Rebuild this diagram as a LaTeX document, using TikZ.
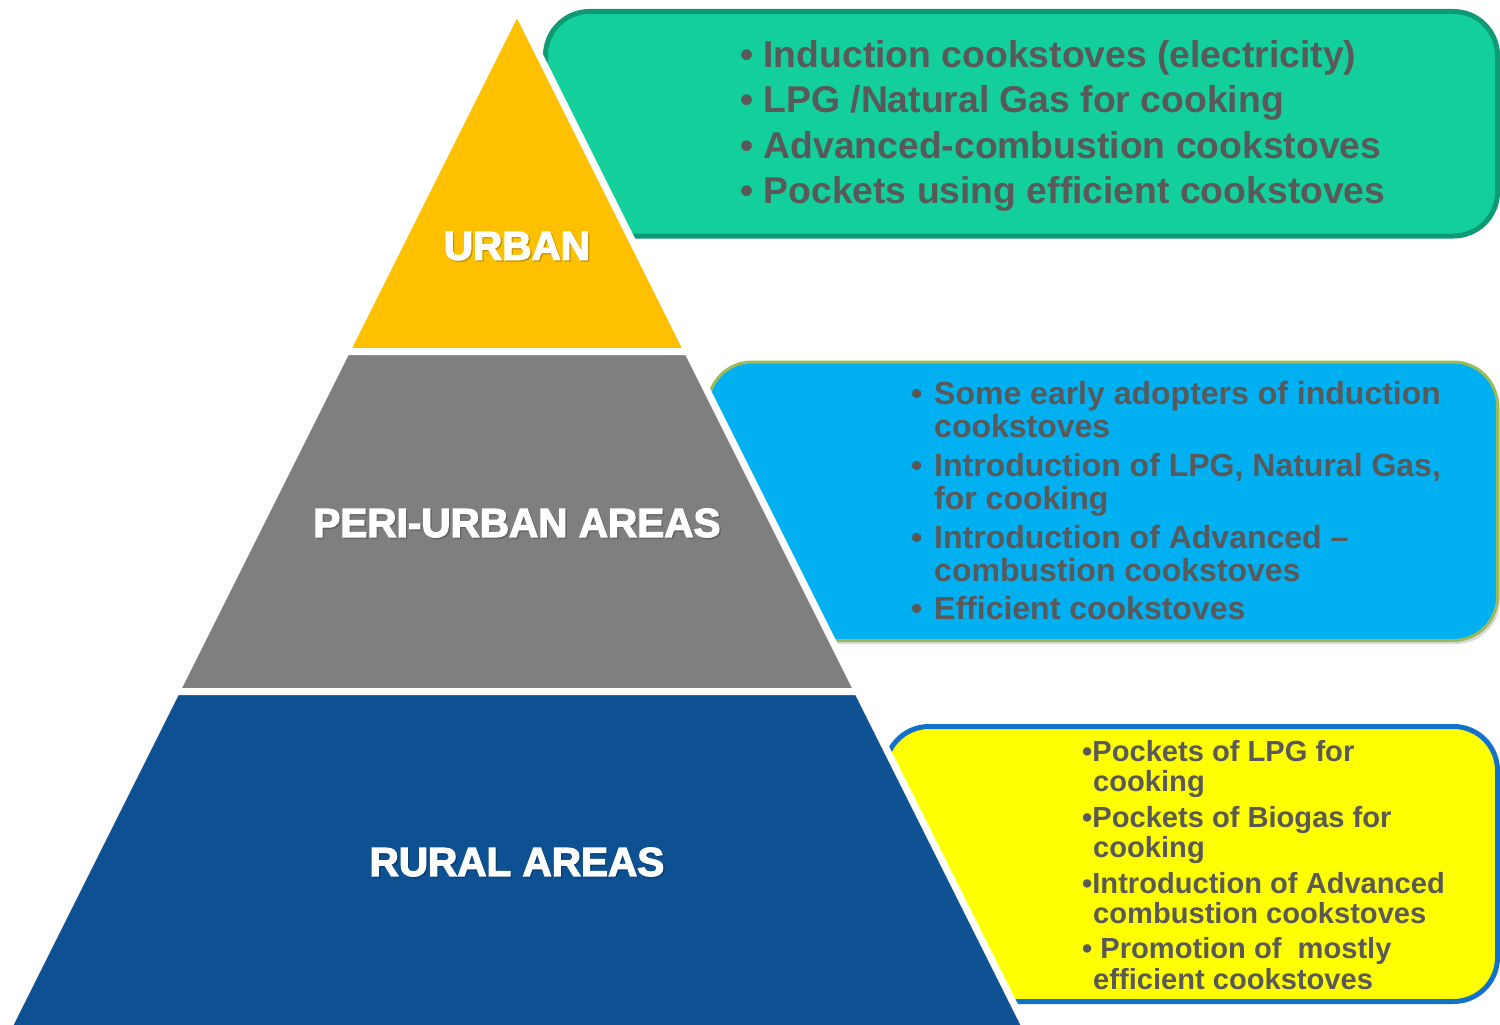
\documentclass[tikz,border=0pt]{standalone}
\usepackage{fontspec}
\setmainfont{Liberation Sans}
\newfontfamily\bodybold{Liberation Sans Bold}
\newfontfamily\tierfont{Liberation Sans Bold}[FakeBold=3]

\definecolor{urbanfill}{HTML}{FFC000}
\definecolor{perifill}{HTML}{7F7F7F}
\definecolor{ruralfill}{HTML}{0E5193}
\definecolor{greenbox}{HTML}{12CF9B}
\definecolor{greenline}{HTML}{0E9A73}
\definecolor{bluebox}{HTML}{00B0F0}
\definecolor{blueline}{HTML}{9BBB59}
\definecolor{yellowbox}{HTML}{FFFF00}
\definecolor{yellowline}{HTML}{1271C9}
\definecolor{txtgray}{HTML}{595959}

\begin{document}
\begin{tikzpicture}[x=1pt,y=-1pt,
  infobox/.style={rounded corners=44},
  tier/.style={fill=#1, draw=white, line width=7, line join=miter},
  tierlabel/.style={inner sep=0pt, text=white, font=\tierfont\fontsize{40.5}{44}\selectfont},
  tiershadow/.style={inner sep=0pt, text=black, opacity=0.15, font=\tierfont\fontsize{40.5}{44}\selectfont},
  topitem/.style={anchor=base west, inner sep=0pt, text=txtgray, font=\bodybold\fontsize{37.3}{44}\selectfont},
  miditem/.style={anchor=base west, inner sep=0pt, text=txtgray, font=\bodybold\fontsize{32}{38}\selectfont},
  lowitem/.style={anchor=base west, inner sep=0pt, text=txtgray, font=\bodybold\fontsize{29.1}{34}\selectfont},
]
\useasboundingbox (0,0) rectangle (1500,1025);
\clip (0,0) rectangle (1500,1025);

% ---- information panels (behind the pyramid) ----
\draw[infobox, fill=greenbox, draw=greenline, line width=5]
  (545.5,11.5) rectangle (1497.5,236);

\fill[infobox, black, opacity=0.15] (710,365) rectangle (1500,644);
\draw[infobox, fill=bluebox, draw=blueline, line width=3]
  (708,362) rectangle (1497.5,640.5);

\draw[infobox, fill=yellowbox, draw=yellowline, line width=5]
  (885,726.5) rectangle (1497.5,1001.5);

% ---- pyramid tiers, outlined in white ----
\filldraw[tier=urbanfill] (517,10.2) -- (687.65,351.5) -- (346.35,351.5) -- cycle;
\filldraw[tier=perifill] (346.35,351.5) -- (687.65,351.5) -- (857.65,691.5) -- (176.35,691.5) -- cycle;
\filldraw[tier=ruralfill] (176.35,691.5) -- (857.65,691.5) -- (1031.9,1040) -- (2.1,1040) -- cycle;

% ---- tier labels ----
\node[tiershadow] (urbanS) at (518.5,247.5) {URBAN};
\node[tierlabel] (urban) at (517,246) {URBAN};
\node[tiershadow] (periS) at (518.5,524.5) {PERI-URBAN AREAS};
\node[tierlabel] (peri) at (517,523) {PERI-URBAN AREAS};
\node[tiershadow] (ruralS) at (518.5,863.5) {RURAL AREAS};
\node[tierlabel] (rural) at (517,862) {RURAL AREAS};

% ---- urban panel text ----
\node[topitem] (u1) at (740,68) {• Induction cookstoves (electricity)};
\node[topitem] (u2) at (740,113) {• LPG /Natural Gas for cooking};
\node[topitem] (u3) at (740,158) {• Advanced-combustion cookstoves};
\node[topitem] (u4) at (740,203) {• Pockets using efficient cookstoves};

% ---- peri-urban panel text ----
\node[miditem] (pb1) at (911,404.5) {•};
\node[miditem] (p1a) at (934,404.5) {Some early adopters of induction};
\node[miditem] (p1b) at (934,437.5) {cookstoves};
\node[miditem] (pb2) at (911,476.5) {•};
\node[miditem] (p2a) at (934,476.5) {Introduction of LPG, Natural Gas,};
\node[miditem] (p2b) at (934,509.5) {for cooking};
\node[miditem] (pb3) at (911,548.5) {•};
\node[miditem] (p3a) at (934,548.5) {Introduction of Advanced –};
\node[miditem] (p3b) at (934,581.5) {combustion cookstoves};
\node[miditem] (pb4) at (911,619.5) {•};
\node[miditem] (p4a) at (934,619.5) {Efficient cookstoves};

% ---- rural panel text ----
\node[lowitem] (r1a) at (1082,761.4) {•Pockets of LPG for};
\node[lowitem] (r1b) at (1093,791.4) {cooking};
\node[lowitem] (r2a) at (1082,827.4) {•Pockets of Biogas for};
\node[lowitem] (r2b) at (1093,857.4) {cooking};
\node[lowitem] (r3a) at (1082,893.4) {•Introduction of Advanced};
\node[lowitem] (r3b) at (1093,923.4) {combustion cookstoves};
\node[lowitem] (r4a) at (1082,958.4) {• Promotion of\ \ mostly};
\node[lowitem] (r4b) at (1093,989.4) {efficient cookstoves};
\end{tikzpicture}
\end{document}
